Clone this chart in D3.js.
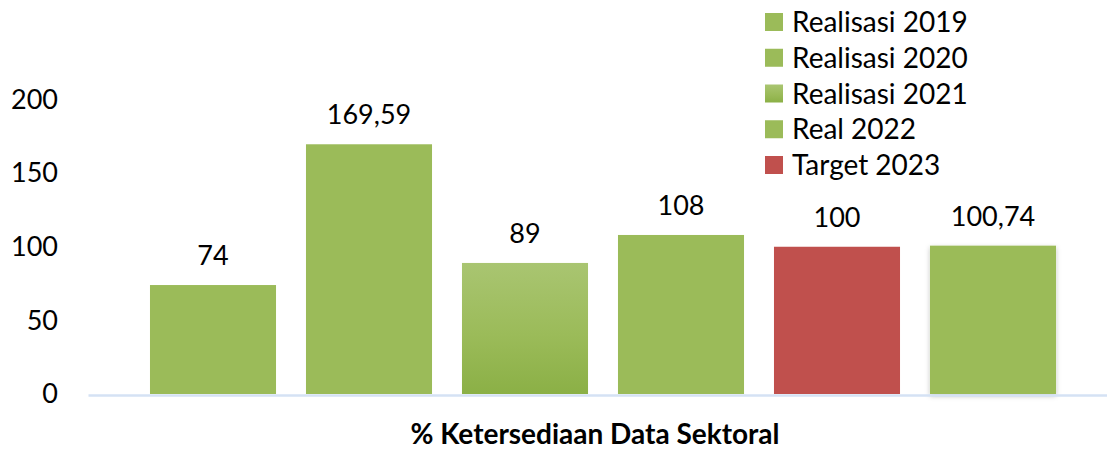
<!DOCTYPE html>
<html>
<head>
<meta charset="utf-8">
<script src="https://cdn.jsdelivr.net/npm/d3@7"></script>
<style>
  body { margin: 0; background: #fff; }
  svg { display: block; font-family: Lato, 'Open Sans', sans-serif; }
</style>
</head>
<body>
<div id="chartDiv1"></div>
<script>
// single category, six series (the last one has no legend entry)
const category = '% Ketersediaan Data Sektoral'
const seriesNames = ['Realisasi 2019', 'Realisasi 2020', 'Realisasi 2021', 'Real 2022', 'Target 2023', 'Realisasi 2023']
const seriesValues = [74, 169.59, 89, 108, 100, 100.74]
const legendNames = ['Realisasi 2019', 'Realisasi 2020', 'Realisasi 2021', 'Real 2022', 'Target 2023']
const yTicks = [0, 50, 100, 150, 200]

const width = 1107
const height = 452

const green = '#9bbb59'
const red = '#c0504d'
const colors = {
  'Realisasi 2019': green,
  'Realisasi 2020': green,
  'Realisasi 2021': 'url(#grad2021)',
  'Real 2022': green,
  'Target 2023': red,
  'Realisasi 2023': green
}

// comma as decimal separator
const locale = d3.formatLocale({ decimal: ',', thousands: '.', grouping: [3], currency: ['', ''] })
const fmt = locale.format('~r')

const svg = d3.select('#chartDiv1').append('svg')
  .attr('width', width)
  .attr('height', height)

const defs = svg.append('defs')
const grad = defs.append('linearGradient')
  .attr('id', 'grad2021')
  .attr('x1', 0).attr('y1', 0).attr('x2', 0).attr('y2', 1)
grad.append('stop').attr('offset', '0%').attr('stop-color', '#a9c571')
grad.append('stop').attr('offset', '55%').attr('stop-color', '#9bbb59')
grad.append('stop').attr('offset', '100%').attr('stop-color', '#8bb046')

const shadow = defs.append('filter')
  .attr('id', 'barShadow')
  .attr('x', '-10%').attr('y', '-10%').attr('width', '120%').attr('height', '120%')
shadow.append('feDropShadow')
  .attr('dx', 0).attr('dy', 2)
  .attr('stdDeviation', 2.5)
  .attr('flood-color', '#000')
  .attr('flood-opacity', 0.25)

const xScale = d3.scaleBand()
  .domain(seriesNames)
  .range([135, 1071])
  .paddingInner(0.192)
  .paddingOuter(0.096)

const yScale = d3.scaleLinear()
  .domain([0, 200])
  .range([394, 99.5])

// y axis labels (no line, no ticks)
const yAxis = d3.axisLeft(yScale)
  .tickValues(yTicks)
  .tickSize(0)
  .tickPadding(0)
  .tickFormat(d3.format('d'))
const yG = svg.append('g')
  .attr('transform', 'translate(58,0)')
  .call(yAxis)
yG.select('.domain').remove()
yG.selectAll('text')
  .attr('fill', '#000')
  .style('font-size', '27px')
  .style('font-family', 'Lato, sans-serif')

// bars
const data = seriesNames.map((name, i) => ({ name, value: seriesValues[i] }))

svg.selectAll('.bar')
  .data(data)
  .enter()
  .append('rect')
  .attr('class', 'bar')
  .attr('x', d => xScale(d.name))
  .attr('y', d => yScale(d.value))
  .attr('width', xScale.bandwidth())
  .attr('height', d => yScale(0) - yScale(d.value))
  .attr('fill', d => colors[d.name])
  .attr('filter', (d, i) => i === seriesNames.length - 1 ? 'url(#barShadow)' : null)

// category axis line
const xAxis = d3.axisBottom(d3.scaleLinear().domain([0, 1]).range([88, 1107]))
  .ticks(0)
  .tickSize(0)
  .tickFormat('')
const xG = svg.append('g')
  .attr('transform', `translate(0,${yScale(0) + 1})`)
  .call(xAxis)
xG.select('.domain')
  .attr('stroke', '#d5e2f4')
  .attr('stroke-width', 2.5)

// data labels
svg.selectAll('.label')
  .data(data)
  .enter()
  .append('text')
  .attr('class', 'label')
  .attr('x', d => xScale(d.name) + xScale.bandwidth() / 2)
  .attr('y', d => yScale(d.value) - 20)
  .attr('text-anchor', 'middle')
  .attr('fill', '#000')
  .style('font-size', '27px')
  .text(d => fmt(d.value))

// category title
svg.append('text')
  .attr('x', 595)
  .attr('y', 444)
  .attr('text-anchor', 'middle')
  .attr('fill', '#000')
  .style('font-size', '28px')
  .style('font-weight', 'bold')
  .text(category)

// legend
const legendY = d3.scalePoint()
  .domain(legendNames)
  .range([22, 165])

const legend = svg.append('g')
  .selectAll('g')
  .data(legendNames)
  .enter()
  .append('g')
  .attr('transform', d => `translate(765,${legendY(d)})`)

legend.append('rect')
  .attr('x', 0)
  .attr('y', -9)
  .attr('width', 18)
  .attr('height', 18)
  .attr('fill', d => colors[d])

legend.append('text')
  .attr('x', 27)
  .attr('y', 0)
  .attr('dy', '0.36em')
  .attr('fill', '#000')
  .style('font-size', '28px')
  .text(d => d)
</script>
</body>
</html>
